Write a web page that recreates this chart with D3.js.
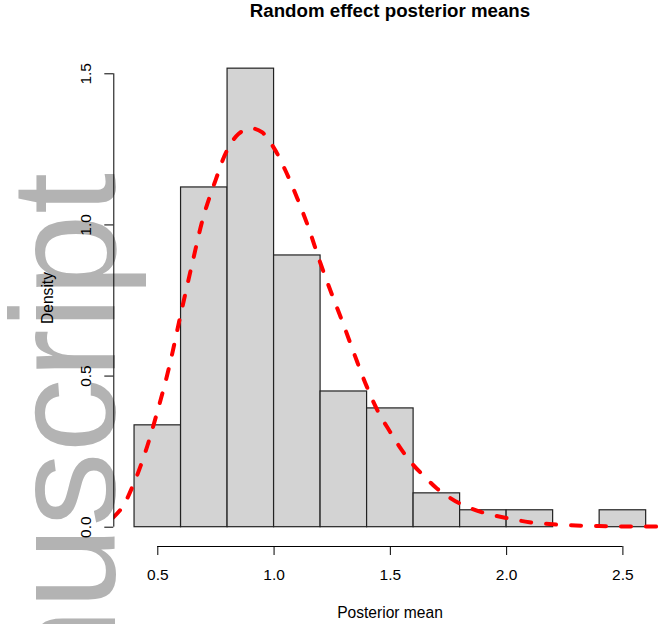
<!DOCTYPE html>
<html>
<head>
<meta charset="utf-8">
<script src="https://cdn.jsdelivr.net/npm/d3@7"></script>
<style>
  body { margin: 0; background: #fff; }
  svg { display: block; font-family: "Liberation Sans", Arial, sans-serif; }
</style>
</head>
<body>
<svg id="chart" width="658" height="624"></svg>
<script>
// histogram bins (left/right edges) and densities
const binStarts = [0.4, 0.6, 0.8, 1.0, 1.2, 1.4, 1.6, 1.8, 2.0, 2.2, 2.4];
const binEnds = [0.6, 0.8, 1.0, 1.2, 1.4, 1.6, 1.8, 2.0, 2.2, 2.4, 2.6];
const densities = [0.337, 1.124, 1.517, 0.899, 0.449, 0.393, 0.112, 0.056, 0.056, 0, 0.056];

// density curve (dashed red)
const curveX = [0.31, 0.35, 0.40, 0.45, 0.50, 0.55, 0.60, 0.65, 0.70, 0.75, 0.80, 0.85, 0.90,
  0.95, 1.00, 1.05, 1.10, 1.15, 1.20, 1.25, 1.30, 1.35, 1.40, 1.45, 1.50, 1.55, 1.60, 1.65,
  1.70, 1.75, 1.80, 1.90, 2.00, 2.10, 2.20, 2.30, 2.40, 2.50, 2.60, 2.70];
const curveY = [0.03, 0.065, 0.145, 0.25, 0.38, 0.525, 0.70, 0.87, 1.03, 1.145, 1.245, 1.30, 1.318,
  1.305, 1.255, 1.18, 1.09, 0.99, 0.875, 0.77, 0.67, 0.565, 0.465, 0.38, 0.315, 0.255, 0.205, 0.165,
  0.128, 0.10, 0.077, 0.047, 0.029, 0.015, 0.008, 0.004, 0.002, 0.001, 0.0005, 0];

const xTicks = [0.5, 1.0, 1.5, 2.0, 2.5];
const yTicks = [0.0, 0.5, 1.0, 1.5];

const svg = d3.select("#chart");

// x: 0.5 -> 157.3, 2.5 -> 622.4 ; y: 0 -> 526.7, 1.5 -> 73.3
const x = d3.scaleLinear().domain([0.5, 2.5]).range([157.3, 622.4]);
const y = d3.scaleLinear().domain([0, 1.5]).range([526.7, 73.3]);
const plotLeft = x(0.312);
const fontFam = "Liberation Sans, Arial, sans-serif";

// watermark behind everything
svg.append("text")
  .attr("transform", "translate(115,173) rotate(-90)")
  .attr("text-anchor", "end")
  .attr("font-size", 148)
  .attr("fill", "#b3b3b3")
  .text("Author Manuscript");

// bars
svg.append("g")
  .selectAll("rect")
  .data(densities)
  .enter()
  .append("rect")
  .attr("x", (d, i) => x(binStarts[i]))
  .attr("y", (d) => y(d))
  .attr("width", (d, i) => x(binEnds[i]) - x(binStarts[i]))
  .attr("height", (d) => y(0) - y(d))
  .attr("fill", "#d3d3d3")
  .attr("stroke", "#222")
  .attr("stroke-width", 1.2);

// density line, clipped to plot region
svg.append("clipPath")
  .attr("id", "clip")
  .append("rect")
  .attr("x", plotLeft)
  .attr("y", 0)
  .attr("width", 658 - plotLeft)
  .attr("height", 560);

const line = d3.line()
  .x((d, i) => x(curveX[i]))
  .y((d) => y(d))
  .curve(d3.curveCatmullRom);

svg.append("path")
  .datum(curveY)
  .attr("clip-path", "url(#clip)")
  .attr("d", line)
  .attr("fill", "none")
  .attr("stroke", "#ff0000")
  .attr("stroke-width", 4)
  .attr("stroke-dasharray", "10 15")
  .attr("stroke-linecap", "round");

// axes, R style
const xAxis = d3.axisBottom(x).tickValues(xTicks).tickSize(9).tickPadding(14)
  .tickFormat(d3.format(".1f"));
svg.append("g")
  .attr("transform", "translate(0,546)")
  .call(xAxis)
  .call((g) => g.selectAll("path,line").attr("stroke", "#000"))
  .call((g) => g.select(".domain").attr("d", `M${x(0.5)},0.5H${x(2.5)}`))
  .call((g) => g.selectAll("text").attr("font-size", 15.5).attr("fill", "#000")
    .attr("font-family", fontFam));

const yAxis = d3.axisLeft(y).tickValues(yTicks).tickSize(9).tickPadding(0)
  .tickFormat(d3.format(".1f"));
const yg = svg.append("g")
  .attr("transform", "translate(113.3,0)")
  .call(yAxis);
yg.selectAll("path,line").attr("stroke", "#000");
yg.select(".domain").attr("d", `M0.5,${y(0)}V${y(1.5)}`);
yg.selectAll(".tick text")
  .attr("x", 0)
  .attr("dy", null)
  .attr("transform", "translate(-22.6,0) rotate(-90)")
  .attr("text-anchor", "middle")
  .attr("font-size", 15.5)
  .attr("fill", "#000")
  .attr("font-family", fontFam);

// labels
svg.append("text")
  .attr("x", 390)
  .attr("y", 17)
  .attr("text-anchor", "middle")
  .attr("font-weight", "bold")
  .attr("font-size", 18.7)
  .text("Random effect posterior means");

svg.append("text")
  .attr("x", 390)
  .attr("y", 618)
  .attr("text-anchor", "middle")
  .attr("font-size", 15.6)
  .text("Posterior mean");

svg.append("text")
  .attr("transform", "translate(52.5,298) rotate(-90)")
  .attr("text-anchor", "middle")
  .attr("font-size", 15.6)
  .text("Density");
</script>
</body>
</html>
